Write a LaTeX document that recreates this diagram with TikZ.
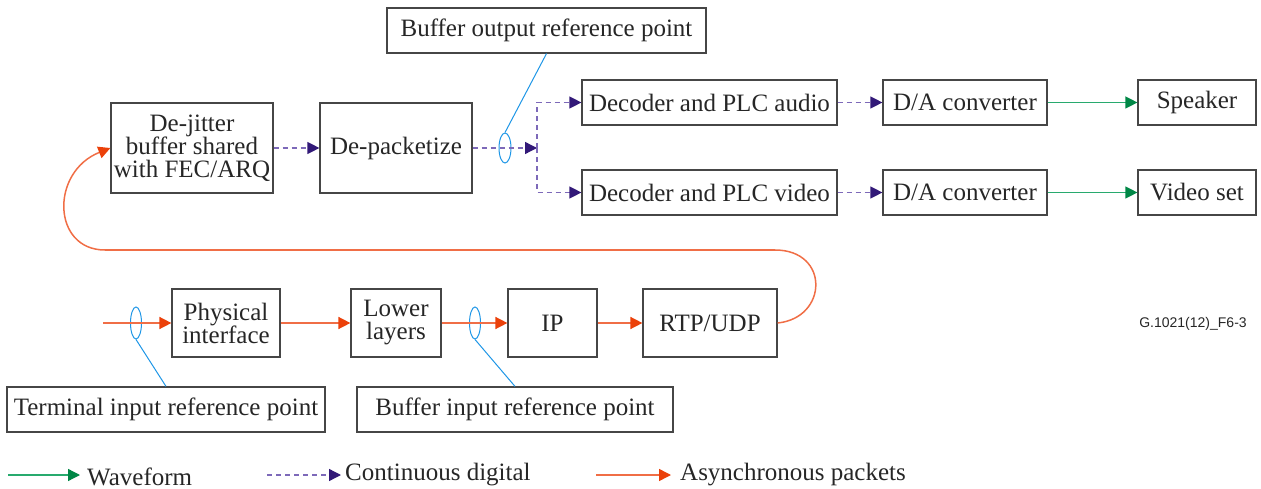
\documentclass[tikz,border=0pt]{standalone}
\usepackage{fontspec}
\setmainfont{Liberation Serif}
\setsansfont{Liberation Sans}
\usetikzlibrary{arrows.meta,shapes.geometric,calc}
\definecolor{boxgray}{RGB}{70,70,70}
\definecolor{wavel}{RGB}{40,170,110}
\definecolor{wavet}{RGB}{0,135,70}
\definecolor{digl}{RGB}{125,105,185}
\definecolor{digt}{RGB}{50,25,120}
\definecolor{pktl}{RGB}{240,110,70}
\definecolor{pktt}{RGB}{235,65,10}
\definecolor{refblue}{RGB}{30,150,230}
\tikzset{
  x=1pt, y=-1pt,
  every node/.style={font=\fontsize{25}{23}\selectfont, text=black!85},
  blk/.style={draw=boxgray, line width=1.2pt, align=center, inner sep=0pt},
  wave/.style={draw=wavel, line width=1.3pt,
    -{Triangle[length=12pt,width=12pt,color=wavet]}},
  digi/.style={draw=digl, line width=1.3pt, dash pattern=on 5pt off 4pt,
    -{Triangle[length=12pt,width=12pt,color=digt]}},
  pkt/.style={draw=pktl, line width=1.5pt,
    -{Triangle[length=12pt,width=12pt,color=pktt]}},
  refel/.style={ellipse, draw=refblue, line width=1pt, inner sep=0pt},
  refline/.style={draw=refblue, line width=1pt},
}
\begin{document}
\begin{tikzpicture}
\useasboundingbox (0,0) rectangle (1261,489);

% upper chain: buffer, depacketizer, decoders, converters, outputs
\node[blk, minimum width=162, minimum height=90] (dj) at (192,148) {De-jitter\\buffer shared\\with FEC/ARQ};
\node[blk, minimum width=152, minimum height=90] (dp) at (396,148) {De-packetize};
\node[blk, minimum width=319, minimum height=45] (bout) at (546.5,30.5) {Buffer output reference point};
\node[blk, minimum width=255, minimum height=45] (deca) at (709.5,102.5) {Decoder and PLC audio};
\node[blk, minimum width=255, minimum height=45] (decv) at (709.5,192.5) {Decoder and PLC video};
\node[blk, minimum width=164, minimum height=45] (daa) at (965,102.5) {D/A converter};
\node[blk, minimum width=164, minimum height=45] (dav) at (965,192.5) {D/A converter};
\node[blk, minimum width=118, minimum height=45] (spk) at (1197,102.5) {Speaker};
\node[blk, minimum width=118, minimum height=45] (vid) at (1197,192.5) {Video set};

% lower chain: network input stack
\node[blk, minimum width=108, minimum height=68] (phy) at (226,323) {Physical\\interface};
\node[blk, minimum width=90, minimum height=68] (low) at (396,323) {Lower\\layers};
\node[blk, minimum width=89, minimum height=68] (ip) at (552.5,323) {IP};
\node[blk, minimum width=134, minimum height=68] (rtp) at (710,323) {RTP/UDP};
\node[blk, minimum width=318, minimum height=45] (tin) at (166,409.5) {Terminal input reference point};
\node[blk, minimum width=316, minimum height=45] (bin) at (515,409.5) {Buffer input reference point};

% reference point markers
\node[refel, minimum width=12, minimum height=30] (eo) at (505,148) {};
\node[refel, minimum width=11, minimum height=32] (et) at (136,323) {};
\node[refel, minimum width=11, minimum height=32] (eb) at (475,323) {};
\draw[refline] (eo.north) -- (bout.south);
\draw[refline] (et.south) -- (tin.north);
\draw[refline] (eb.south) -- (bin.north);

% continuous digital flow
\coordinate (jn) at (537,148);
\draw[digi] (dj.east) -- (dp.west);
\draw[digi] (dp.east) -- (jn);
\draw[digi] (jn) |- (deca.west);
\draw[digi] (jn) |- (decv.west);
\draw[digi] (deca.east) -- (daa.west);
\draw[digi] (decv.east) -- (dav.west);

% waveform outputs
\draw[wave] (daa.east) -- (spk.west);
\draw[wave] (dav.east) -- (vid.west);

% packet flow
\coordinate (pin) at (103,323);
\draw[pkt] (pin) -- (phy.west);
\draw[pkt] (phy.east) -- (low.west);
\draw[pkt] (low.east) -- (ip.west);
\draw[pkt] (ip.east) -- (rtp.west);
\draw[pkt] (rtp.east) .. controls (828,318) and (830,250) .. (775,250)
  -- (105,250) .. controls (52,250) and (50,172) .. (dj.west);

% figure tag
\node[font=\sffamily\fontsize{14}{16}\selectfont, anchor=center] (tag) at (1193,324) {G.1021(12)\_F6-3};

% legend
\coordinate (lw1) at (8,475);  \coordinate (lw2) at (80,475);
\coordinate (ld1) at (267,475); \coordinate (ld2) at (341,475);
\coordinate (lp1) at (596,475); \coordinate (lp2) at (671,475);
\draw[wave] (lw1) -- (lw2);
\draw[digi] (ld1) -- (ld2);
\draw[pkt] (lp1) -- (lp2);
\node[anchor=west, inner sep=0pt] (lwt) at (87,477) {Waveform};
\node[anchor=west, inner sep=0pt] (ldt) at (345,475) {Continuous digital};
\node[anchor=west, inner sep=0pt] (lpt) at (680,475) {Asynchronous packets};
\end{tikzpicture}
\end{document}
